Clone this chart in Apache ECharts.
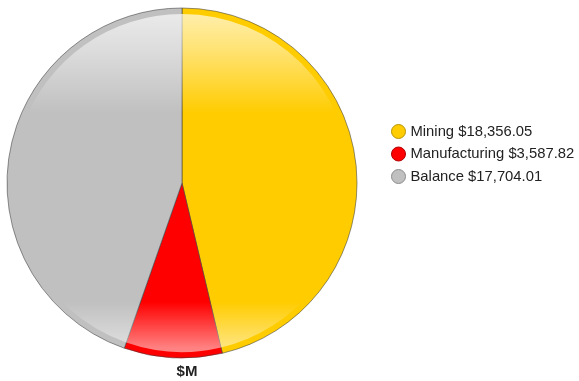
<!DOCTYPE html>
<html><head><meta charset="utf-8">
<script src="https://cdn.jsdelivr.net/npm/echarts@6/dist/echarts.min.js"></script>
<style>html,body{margin:0;padding:0;background:#fff}#c{width:579px;height:381px}</style>
</head><body><div id="c"></div>
<script>
const categories = ['Mining', 'Manufacturing', 'Balance'];
const values = [18356.05, 3587.82, 17704.01];
const colors = ['#FFCC00', '#FF0000', '#C0C0C0'];
const borders = ['#B89400', '#B00000', '#8C8C8C'];
const titleText = '$M';

function fmt(v){ return '$' + v.toLocaleString('en-US',{minimumFractionDigits:2,maximumFractionDigits:2}); }

const chart = echarts.init(document.getElementById('c'), null, {renderer:'canvas'});
const baseData = categories.map((n,i)=>({name:n, value:values[i], itemStyle:{color:colors[i]}}));
const gloss = {type:'linear', x:0, y:8, x2:0, y2:358, global:true, colorStops:[
  {offset:0, color:'rgba(255,255,255,0.7)'},
  {offset:0.12, color:'rgba(255,255,255,0.45)'},
  {offset:0.30, color:'rgba(255,255,255,0)'},
  {offset:0.84, color:'rgba(255,255,255,0)'},
  {offset:0.97, color:'rgba(255,255,255,0.5)'},
  {offset:1, color:'rgba(255,255,255,0.55)'}
]};
const glossData = categories.map((n,i)=>({name:n, value:values[i], itemStyle:{color:gloss}}));

chart.setOption({
  animation:false,
  title:{text:titleText, left:182, top:359, textAlign:'center',
    textStyle:{fontFamily:'Liberation Sans, Arial', fontSize:15, fontWeight:'bold', color:'#222'}},
  legend:{
    orient:'vertical', left:386, top:119, icon:'circle', itemWidth:14, itemHeight:14, itemGap:7.5,
    textStyle:{fontFamily:'Liberation Sans, Arial', fontSize:14.8, color:'#222'},
    data: categories.map((n,i)=>({name:n, itemStyle:{color:colors[i], borderColor:borders[i], borderWidth:1}})),
    formatter: name => name + ' ' + fmt(values[categories.indexOf(name)])
  },
  series:[
    {type:'pie', center:[182,183], radius:[0,175], startAngle:90, clockwise:true,
     label:{show:false}, labelLine:{show:false}, emphasis:{disabled:true},
     itemStyle:{borderColor:'rgba(60,60,60,0.55)', borderWidth:1},
     data: baseData},
    {type:'pie', center:[182,183], radius:[0,169], startAngle:90, clockwise:true, silent:true,
     label:{show:false}, labelLine:{show:false}, emphasis:{disabled:true}, tooltip:{show:false},
     itemStyle:{borderWidth:0},
     data: glossData}
  ]
});
</script></body></html>
